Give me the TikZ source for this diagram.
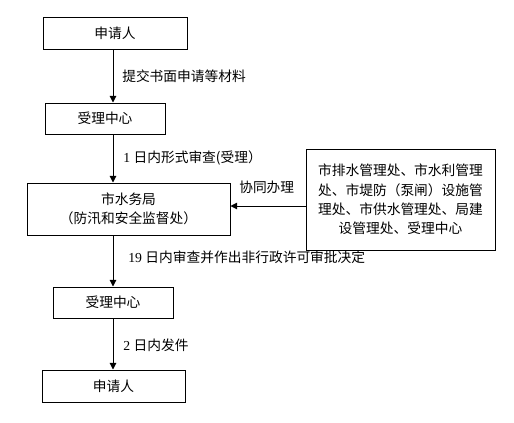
\documentclass[tikz,border=0pt]{standalone}
\usepackage{fontspec}
\setmainfont{Liberation Serif}
\newfontfamily\cjk{Noto Sans CJK SC}
\usetikzlibrary{arrows.meta}
\begin{document}
\begin{tikzpicture}[x=0.75pt,y=-0.75pt,
  box/.style={draw,line width=0.75pt,inner sep=0pt,font=\fontsize{10.3}{14.6}\selectfont\cjk,align=center},
  arr/.style={line width=0.75pt,-{Triangle[width=5pt,length=5pt]}},
  lbl/.style={anchor=west,inner sep=0pt,font=\fontsize{10.3}{12}\selectfont}]
\useasboundingbox (0,0) rectangle (514,422);
\fill[white] (0,0) rectangle (514,422);
\coordinate (col) at (113,0);
\coordinate (yarr) at (0,206);
\node[box,minimum width=144*0.75pt,minimum height=32*0.75pt] (b1) at (115,33) {申请人};
\node[box,minimum width=120*0.75pt,minimum height=31*0.75pt] (b2) at (105,118.5) {受理中心};
\node[box,minimum width=203*0.75pt,minimum height=52*0.75pt] (b3) at (128.5,209) {市水务局\\（防汛和安全监督处）};
\node[box,minimum width=189*0.75pt,minimum height=101*0.75pt] (rb) at (400.5,199.5) {市排水管理处、市水利管理\\处、市堤防（泵闸）设施管\\理处、市供水管理处、局建\\设管理处、受理中心};
\node[box,minimum width=120*0.75pt,minimum height=31*0.75pt] (b4) at (113,302.5) {受理中心};
\node[box,minimum width=143*0.75pt,minimum height=32*0.75pt] (b5) at (113.5,386) {申请人};
\draw[arr] (b1.south -| col) -- (b2.north -| col);
\draw[arr] (b2.south -| col) -- (b3.north -| col);
\draw[arr] (b3.south -| col) -- (b4.north -| col);
\draw[arr] (b4.south -| col) -- (b5.north -| col);
\draw[arr] (rb.west |- yarr) -- (b3.east |- yarr);
\node[lbl] (l1) at (122,76) {\cjk 提交书面申请等材料};
\node[lbl] (l2) at (123,158) {1 {\cjk 日内形式审查(受理）}};
\node[lbl] (l3) at (239,187) {\cjk 协同办理};
\node[lbl] (l4) at (128,257) {19 {\cjk 日内审查并作出非行政许可审批决定}};
\node[lbl] (l5) at (123,345) {2 {\cjk 日内发件}};
\end{tikzpicture}
\end{document}
